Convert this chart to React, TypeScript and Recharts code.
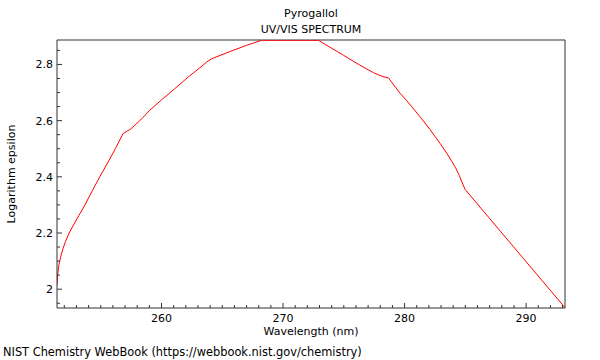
import { LineChart, Line, XAxis, YAxis, ReferenceLine } from "recharts";

const wavelength = [
  251.4, 251.45, 251.55, 251.7, 251.9, 252.1, 252.4, 252.75, 253.2, 253.7,
  254.3, 254.92, 255.6, 256.2, 256.84, 257.1, 257.4, 257.8, 258.4, 259.04,
  260.0, 260.96, 262.33, 263.15, 263.7, 264.12, 265.63, 267.0, 268.24, 272.9,
  274.96, 276.3, 277.0, 277.43, 277.9, 278.3, 278.67, 279.62, 280.18, 281.27,
  282.1, 282.92, 283.5, 283.9, 284.2, 284.5, 284.75, 284.98, 293.2,
];

const logEpsilon = [
  2.015, 2.05, 2.085, 2.115, 2.145, 2.17, 2.2, 2.228, 2.262, 2.3,
  2.35, 2.4, 2.452, 2.5, 2.554, 2.561, 2.568, 2.583, 2.608, 2.637,
  2.674, 2.709, 2.76, 2.788, 2.808, 2.82, 2.846, 2.868, 2.886, 2.886,
  2.833, 2.798, 2.781, 2.771, 2.762, 2.756, 2.752, 2.698, 2.671, 2.614,
  2.568, 2.519, 2.482, 2.454, 2.432, 2.405, 2.378, 2.355, 1.934,
];

const xTicks = Array.from({ length: 42 }, (_, i) => 252 + i);
const yTicks = [
  1.95, 2.0, 2.05, 2.1, 2.15, 2.2, 2.25, 2.3, 2.35, 2.4,
  2.45, 2.5, 2.55, 2.6, 2.65, 2.7, 2.75, 2.8, 2.85,
];

const X_DOMAIN: [number, number] = [251.4, 293.2];
const Y_DOMAIN: [number, number] = [1.933, 2.887];

const data = wavelength.map((w, i) => ({ w, e: logEpsilon[i] }));

const FONT = "'DejaVu Sans', sans-serif";
const AXIS = "#333";

const XTick = (props: any) => {
  const { x, y, payload } = props;
  const v = payload.value;
  const major = v % 10 === 0;
  return (
    <g>
      <line x1={x} x2={x} y1={y} y2={y - (major ? 5 : 3)} stroke={AXIS} />
      {major && (
        <text x={x} y={y + 14} textAnchor="middle" fontSize={11} fontFamily={FONT} fill="#000">
          {v}
        </text>
      )}
    </g>
  );
};

const YTick = (props: any) => {
  const { x, y, payload } = props;
  const v = payload.value;
  const major = Math.round(v * 100) % 20 === 0;
  return (
    <g>
      <line x1={x} x2={x + (major ? 5 : 3)} y1={y} y2={y} stroke={AXIS} />
      {major && (
        <text x={x - 4} y={y + 4} textAnchor="end" fontSize={11} fontFamily={FONT} fill="#000">
          {Math.abs(v - 2) < 1e-9 ? "2" : v.toFixed(1)}
        </text>
      )}
    </g>
  );
};

export default function App() {
  return (
    <div style={{ position: "absolute", left: 0, top: 0, width: 600, height: 360, background: "#fff" }}>
      <LineChart width={600} height={360} data={data} margin={{ top: 40, right: 35, left: 10, bottom: 22 }}>
        <XAxis
          dataKey="w"
          type="number"
          domain={X_DOMAIN}
          ticks={xTicks}
          interval={0}
          tickSize={0}
          tickMargin={0}
          tick={<XTick />}
          height={30}
          stroke={AXIS}
          allowDataOverflow
        />
        <YAxis
          type="number"
          domain={Y_DOMAIN}
          ticks={yTicks}
          interval={0}
          tickSize={0}
          tickMargin={0}
          tick={<YTick />}
          width={47}
          stroke={AXIS}
          allowDataOverflow
        />
        <ReferenceLine y={Y_DOMAIN[1]} stroke="#999" strokeWidth={2} ifOverflow="extendDomain" />
        <ReferenceLine x={X_DOMAIN[1]} stroke={AXIS} ifOverflow="extendDomain" />
        <Line
          dataKey="e"
          type="linear"
          stroke="#ff0000"
          strokeWidth={1}
          dot={false}
          isAnimationActive={false}
        />
      </LineChart>
      <svg
        width={600}
        height={360}
        style={{ position: "absolute", left: 0, top: 0, pointerEvents: "none" }}
        fontFamily={FONT}
        fontSize={11}
      >
        <text x={311} y={17} textAnchor="middle">Pyrogallol</text>
        <text x={311} y={33} textAnchor="middle">UV/VIS SPECTRUM</text>
        <text x={311} y={335} textAnchor="middle">Wavelength (nm)</text>
        <text x={15} y={174} textAnchor="middle" transform="rotate(-90 15 174)">Logarithm epsilon</text>
        <text x={3} y={356} fontSize={11.4}>NIST Chemistry WebBook (https://webbook.nist.gov/chemistry)</text>
      </svg>
    </div>
  );
}
